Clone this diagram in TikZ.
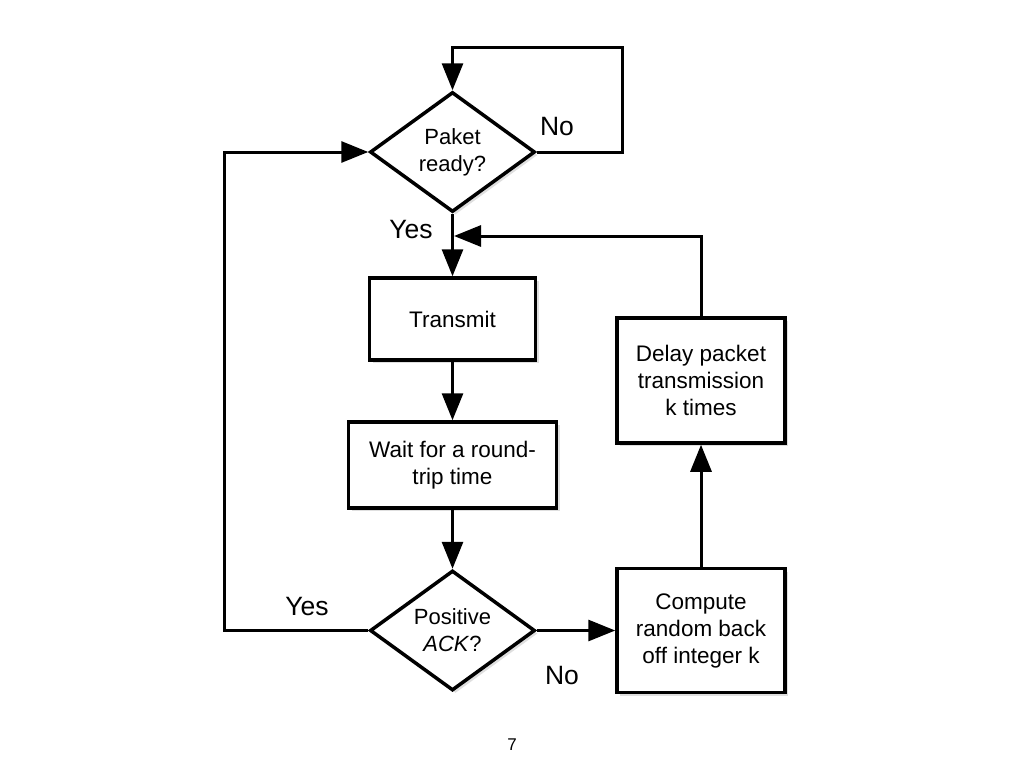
\documentclass[tikz,border=0pt]{standalone}
\usepackage{fontspec}
\setmainfont{Liberation Sans}
\usetikzlibrary{arrows.meta,shapes.geometric,shadows}
\begin{document}
\begin{tikzpicture}[x=1pt,y=-1pt,
  line join=miter,
  shd/.style={drop shadow={opacity=0.25,shadow xshift=3pt,shadow yshift=-3pt}},
  procbox/.style={draw,line width=3.5pt,fill=white,shd,align=center,inner sep=0pt,
    font=\fontsize{22.5}{27}\selectfont},
  decis/.style={draw,diamond,aspect=1.375,line width=3.5pt,fill=white,shd,align=center,inner sep=0pt,
    minimum width=165pt,minimum height=120pt,font=\fontsize{22}{27}\selectfont},
  conn/.style={line width=3pt,-{Triangle[length=27pt,width=21pt]}},
  lbl/.style={font=\fontsize{26.5}{30}\selectfont,inner sep=0pt}]
\useasboundingbox (0,0) rectangle (1024,768);
\fill[white] (0,0) rectangle (1024,768);

\node[decis] (d1) at (452.5,152) {Paket\\ready?};
\node[procbox,minimum width=166pt,minimum height=82pt] (t) at (452.5,319) {Transmit};
\node[procbox,minimum width=208pt,minimum height=86pt] (w) at (452.5,465) {Wait for a round-\\trip time};
\node[decis] (d2) at (452.5,630.5) {Positive\\\textit{ACK}?};
\node[procbox,minimum width=168pt,minimum height=124pt] (c) at (701,630.5) {Compute\\random back\\off integer k};
\node[procbox,minimum width=168pt,minimum height=125pt] (dl) at (701,380.5) {Delay packet\\transmission\\k times};

\coordinate (c1) at (622,48);
\coordinate (c2) at (224,152);
\coordinate (m) at (454,236);

\draw[conn] (d1.east) -| (c1) -| (d1.north);
\draw[conn] (d2.west) -| (c2) -- (d1.west);
\draw[conn] (d1.south) -- (t.north);
\draw[conn] (t.south) -- (w.north);
\draw[conn] (w.south) -- (d2.north);
\draw[conn] (d2.east) -- (c.west);
\draw[conn] (c.north) -- (dl.south);
\draw[conn] (dl.north) |- (m);

\node[lbl] (no1) at (557,127) {No};
\node[lbl] (yes1) at (411,230) {Yes};
\node[lbl] (yes2) at (307,607) {Yes};
\node[lbl] (no2) at (562,676) {No};
\node[font=\fontsize{17}{20}\selectfont] (pg) at (512,745) {7};
\end{tikzpicture}
\end{document}
